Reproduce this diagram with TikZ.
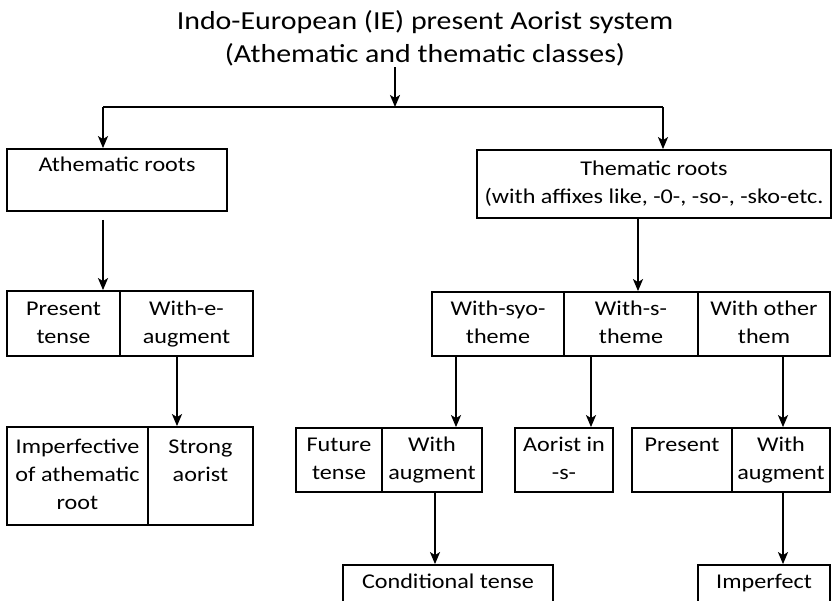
\documentclass[tikz,border=0pt]{standalone}
\usepackage{fontspec}
\setmainfont{Carlito}[FakeStretch=1.15]
\usetikzlibrary{arrows.meta}
\newcommand{\bodyfont}{\fontsize{21}{28}\selectfont}
\newcommand{\titlefont}{\fontsize{26}{33}\selectfont}
\tikzset{
  cell/.style={draw, line width=1.8pt, inner sep=0pt, align=center, font=\bodyfont},
  ln/.style={line width=1.8pt},
  arr/.style={-{Stealth[length=12pt,width=10pt,inset=3pt]}, line width=1.8pt},
}
\begin{document}
\begin{tikzpicture}[x=1pt,y=-1pt]
\useasboundingbox (0,0) rectangle (833,600);
% title
\node[font=\titlefont, align=center, inner sep=0pt] (title) at (425,38.9)
  {\strut Indo-European (IE) present Aorist system\\\strut (Athematic and thematic classes)};
% first level
\node[cell, minimum width=220, minimum height=62] (athem) at (117,180) {\strut Athematic roots\\\strut};
\node[cell, minimum width=354, minimum height=68] (them) at (654,184)
  {\strut Thematic roots\\\strut(with affixes like, -0-, -so-, -sko-etc.};
% left column
\node[cell, minimum width=113, minimum height=65] (pres) at (63.5,323.5) {\strut Present\\\strut tense};
\node[cell, minimum width=133, minimum height=65] (witheaug) at (186.5,323.5) {\strut With-e-\\\strut augment};
\node[cell, minimum width=141, minimum height=98] (imperf) at (77.5,476) {\strut Imperfective\\\strut of athematic\\\strut root};
\node[cell, minimum width=105, minimum height=98] (strong) at (200.5,476) {\strut Strong\\\strut aorist\\\strut};
% right column
\node[cell, minimum width=132, minimum height=64] (syo) at (498,324) {\strut With-syo-\\\strut theme};
\node[cell, minimum width=134, minimum height=64] (sth) at (631,324) {\strut With-s-\\\strut theme};
\node[cell, minimum width=132, minimum height=64] (other) at (764,324) {\strut With other\\\strut them};
\node[cell, minimum width=86, minimum height=64] (fut) at (339,460) {\strut Future\\\strut tense};
\node[cell, minimum width=100, minimum height=64] (withaug1) at (432,460) {\strut With\\\strut augment};
\node[cell, minimum width=98, minimum height=64] (aor) at (564,460) {\strut Aorist in\\\strut -s-};
\node[cell, minimum width=100, minimum height=64] (presR) at (682,460) {\strut Present\\\strut};
\node[cell, minimum width=98, minimum height=64] (withaug2) at (781,460) {\strut With\\\strut augment};
\node[cell, minimum width=210, minimum height=64] (cond) at (448,597) {\strut Conditional tense\\\strut};
\node[cell, minimum width=132, minimum height=64] (imperfect) at (764,597) {\strut Imperfect\\\strut};
% connectors
\coordinate (split) at (395,107);
\coordinate (hl) at (103,107);
\coordinate (hr) at (663,107);
\draw[arr] ([yshift=5pt]title.south -| split) -- (split);
\draw[ln] (hl) -- (hr);
\draw[arr] (hl) -- (hl |- athem.north);
\draw[arr] (hr) -- (hr |- them.north);
\draw[arr] ([yshift=-8pt]athem.south -| hl) -- (hl |- pres.north);
\draw[arr] ([xshift=-9.5pt]witheaug.south) -- ([xshift=-9.5pt]witheaug.south |- strong.north);
\draw[arr] ([xshift=7pt]sth.north |- them.south) -- ([xshift=7pt]sth.north);
\draw[arr] ([xshift=-42pt]syo.south) -- ([xshift=-42pt]syo.south |- withaug1.north);
\draw[arr] ([xshift=-40pt]sth.south) -- ([xshift=-40pt]sth.south |- aor.north);
\draw[arr] ([xshift=19pt]other.south) -- ([xshift=19pt]other.south |- withaug2.north);
\draw[arr] ([xshift=3pt]withaug1.south) -- ([xshift=3pt]withaug1.south |- cond.north);
\draw[arr] ([xshift=2pt]withaug2.south) -- ([xshift=2pt]withaug2.south |- imperfect.north);
\end{tikzpicture}
\end{document}
